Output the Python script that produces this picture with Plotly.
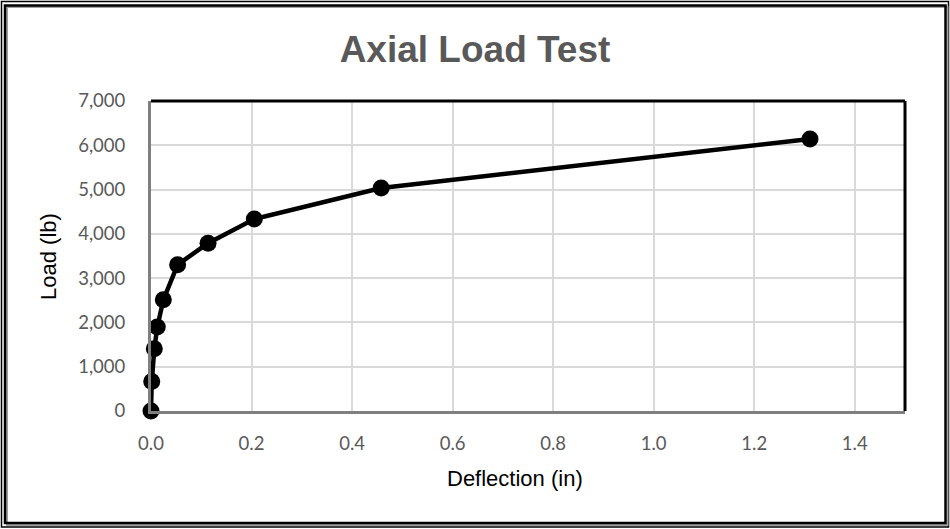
import plotly.graph_objects as go

# Data
deflection_in = [0.0, 0.0015, 0.0066, 0.0125, 0.0245, 0.053, 0.1135, 0.2055, 0.458, 1.311]
load_lb = [0, 665, 1405, 1895, 2510, 3305, 3790, 4335, 5035, 6140]

x_ticks = [0.0, 0.2, 0.4, 0.6, 0.8, 1.0, 1.2, 1.4]
x_tick_labels = ["0.0", "0.2", "0.4", "0.6", "0.8", "1.0", "1.2", "1.4"]
y_ticks = [0, 1000, 2000, 3000, 4000, 5000, 6000, 7000]
y_tick_labels = ["0", "1,000", "2,000", "3,000", "4,000", "5,000", "6,000", "7,000"]

W, H = 950, 529
L, R, T, B = 151, 45, 101, 118
pw, ph = W - L - R, H - T - B


def px_to_paper_x(px):
    return (px - L) / pw


def px_to_paper_y(py):
    return (H - B - py) / ph


FONT = "Liberation Sans, Arial, sans-serif"
TICKFONT = "Lato, Liberation Sans, sans-serif"

fig = go.Figure()
fig.add_trace(go.Scatter(
    x=deflection_in, y=load_lb, mode="lines+markers",
    line=dict(color="black", width=4.5),
    marker=dict(color="black", size=17),
    cliponaxis=False,
    showlegend=False,
))

shapes = []
# outer thin frame
shapes.append(dict(type="rect", xref="paper", yref="paper",
                   x0=px_to_paper_x(1.5), x1=px_to_paper_x(948.5),
                   y0=px_to_paper_y(1.5), y1=px_to_paper_y(527),
                   line=dict(color="black", width=1.5), layer="above"))
# inner shadow
shapes.append(dict(type="rect", xref="paper", yref="paper",
                   x0=px_to_paper_x(7), x1=px_to_paper_x(947.5),
                   y0=px_to_paper_y(7), y1=px_to_paper_y(525),
                   line=dict(color="#a0a0a0", width=2), layer="above"))
# inner thick frame
shapes.append(dict(type="rect", xref="paper", yref="paper",
                   x0=px_to_paper_x(5), x1=px_to_paper_x(945.5),
                   y0=px_to_paper_y(5.5), y1=px_to_paper_y(523),
                   line=dict(color="black", width=2.5), layer="above"))
# plot area top and right borders
shapes.append(dict(type="line", xref="paper", yref="paper",
                   x0=0, x1=1, y0=1, y1=1,
                   line=dict(color="black", width=3), layer="above"))
shapes.append(dict(type="line", xref="paper", yref="paper",
                   x0=1, x1=1, y0=0, y1=1,
                   line=dict(color="black", width=3), layer="above"))

annotations = [
    dict(text="Deflection (in)", xref="paper", yref="paper",
         x=px_to_paper_x(514.5), y=px_to_paper_y(479), xanchor="center", yanchor="middle",
         showarrow=False, font=dict(family=FONT, size=22, color="black")),
    dict(text="Load (lb)", xref="paper", yref="paper",
         x=px_to_paper_x(48), y=px_to_paper_y(257), xanchor="center", yanchor="middle",
         textangle=-90, showarrow=False, font=dict(family=FONT, size=22, color="black")),
]

fig.update_layout(
    width=W, height=H,
    margin=dict(l=L, r=R, t=T, b=B),
    paper_bgcolor="white", plot_bgcolor="white",
    title=dict(text="<b>Axial Load Test</b>", x=0.5, xref="container", xanchor="center",
               y=1 - 49 / H, yanchor="middle",
               font=dict(family=FONT, size=37, color="#595959")),
    xaxis=dict(
        range=[0, 1.5], tickvals=x_ticks, ticktext=x_tick_labels,
        showgrid=True, gridcolor="#d9d9d9", gridwidth=1.5,
        zeroline=False, showline=True, linecolor="#7f7f7f", linewidth=3,
        ticks="outside", ticklen=14, tickcolor="rgba(0,0,0,0)",
        tickfont=dict(family=TICKFONT, size=18.5, color="#595959"),
    ),
    yaxis=dict(
        range=[0, 7000], tickvals=y_ticks, ticktext=y_tick_labels,
        showgrid=True, gridcolor="#d9d9d9", gridwidth=1.5,
        zeroline=False, showline=True, linecolor="#7f7f7f", linewidth=3,
        ticks="outside", ticklen=19, tickcolor="rgba(0,0,0,0)",
        tickfont=dict(family=TICKFONT, size=18.5, color="#595959"),
    ),
    shapes=shapes,
    annotations=annotations,
)

fig.write_html("out.html", config={"displayModeBar": False},
               post_script="document.body.style.margin='0';document.body.style.overflow='hidden';")
